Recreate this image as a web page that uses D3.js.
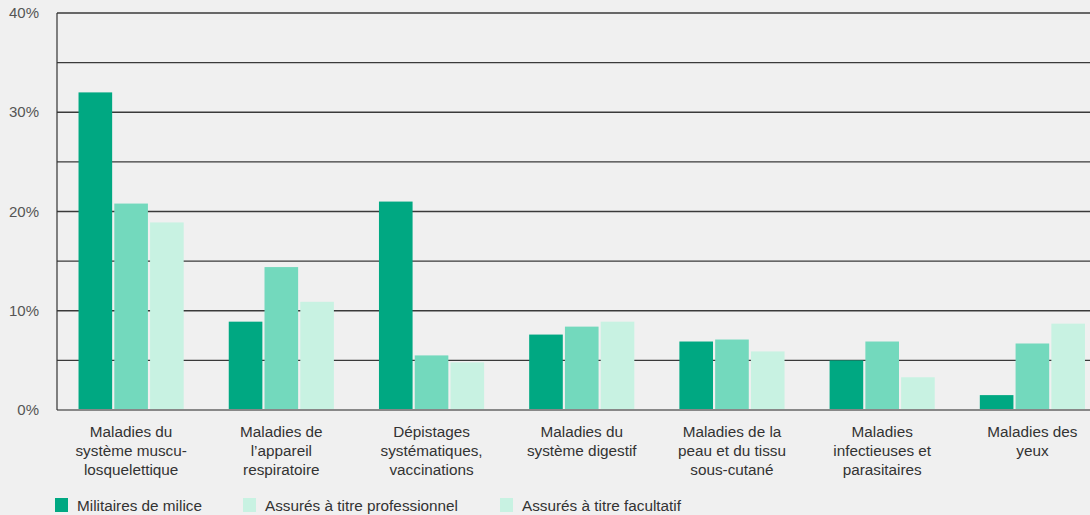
<!DOCTYPE html>
<html>
<head>
<meta charset="utf-8">
<script src="https://cdn.jsdelivr.net/npm/d3@7"></script>
<style>
  html, body { margin: 0; padding: 0; background: #f0f0f0; overflow: hidden; }
  svg { display: block; font-family: "Liberation Sans", Arial, sans-serif; }
</style>
</head>
<body>
<div id="chart"></div>
<script>
var categories = [
    ['Maladies du', 'système muscu-', 'losquelettique'],
    ['Maladies de', 'l’appareil', 'respiratoire'],
    ['Dépistages', 'systématiques,', 'vaccinations'],
    ['Maladies du', 'système digestif'],
    ['Maladies de la', 'peau et du tissu', 'sous-cutané'],
    ['Maladies', 'infectieuses et', 'parasitaires'],
    ['Maladies des', 'yeux']
];
var seriesNames = ['Militaires de milice', 'Assurés à titre professionnel', 'Assurés à titre facultatif'];
var militaires = [32.0, 8.9, 21.0, 7.6, 6.9, 5.0, 1.5];
var professionnels = [20.8, 14.4, 5.5, 8.4, 7.1, 6.9, 6.7];
var facultatifs = [18.9, 10.9, 4.8, 8.9, 5.9, 3.3, 8.7];
var yTicks = [0, 10, 20, 30, 40];
var gridValues = [5, 10, 15, 20, 25, 30, 35, 40];

var barColors = ['#00a882', '#73d9bd', '#c8f2e2'];
var legendColors = ['#00a882', '#c8f2e2', '#c8f2e2'];

var w = 1090, h = 515;
var svg = d3.select('#chart').append('svg')
    .attr('width', w)
    .attr('height', h);

var rows = categories.map((c, i) => ({
    idx: i,
    values: [militaires[i], professionnels[i], facultatifs[i]]
}));

var x0 = d3.scaleBand()
    .domain(d3.range(categories.length))
    .range([56, 1107.5])
    .paddingInner(0.3)
    .paddingOuter(0.15);
var x1 = d3.scaleBand()
    .domain([0, 1, 2])
    .range([0, x0.bandwidth()])
    .paddingInner(0.06);
var y = d3.scaleLinear()
    .domain([0, 40])
    .range([410, 13]);

// grid
svg.append('g')
    .selectAll('line')
    .data(gridValues)
    .enter()
    .append('line')
    .attr('x1', 57)
    .attr('x2', w)
    .attr('y1', (d) => y(d))
    .attr('y2', (d) => y(d))
    .attr('stroke', '#3a3a3a')
    .attr('stroke-width', 1.4);

// bars
svg.append('g')
    .selectAll('g')
    .data(rows)
    .enter()
    .append('g')
    .attr('transform', (d) => `translate(${x0(d.idx)},0)`)
    .selectAll('rect')
    .data((d) => d.values)
    .enter()
    .append('rect')
    .attr('x', (d, i) => x1(i))
    .attr('width', x1.bandwidth())
    .attr('y', (d) => y(d))
    .attr('height', (d) => y(0) - y(d))
    .attr('fill', (d, i) => barColors[i]);

// baseline + y axis line
svg.append('line')
    .attr('x1', 57).attr('x2', w)
    .attr('y1', y(0)).attr('y2', y(0))
    .attr('stroke', '#888').attr('stroke-width', 2);
svg.append('line')
    .attr('x1', 57).attr('x2', 57)
    .attr('y1', y(40)).attr('y2', y(0))
    .attr('stroke', '#333').attr('stroke-width', 1.2);

// y tick labels
svg.append('g')
    .selectAll('text')
    .data(yTicks)
    .enter()
    .append('text')
    .attr('x', 39)
    .attr('y', (d) => y(d) + 5)
    .attr('text-anchor', 'end')
    .attr('fill', '#555')
    .style('font-size', '15px')
    .text((d) => d + '%');

// category labels
var catLabels = svg.append('g')
    .selectAll('text')
    .data(rows)
    .enter()
    .append('text')
    .attr('text-anchor', 'middle')
    .attr('fill', '#333')
    .style('font-size', '15.3px')
    .attr('transform', (d) => `translate(${x0(d.idx) + x0.bandwidth() / 2},437)`);
catLabels.selectAll('tspan')
    .data((d) => categories[d.idx])
    .enter()
    .append('tspan')
    .attr('x', 0)
    .attr('y', (d, i) => i * 19)
    .text((d) => d);

// legend
var legendX = [55, 243, 500];
var legend = svg.append('g')
    .selectAll('g')
    .data(seriesNames)
    .enter()
    .append('g')
    .attr('transform', (d, i) => `translate(${legendX[i]},498)`);
legend.append('rect')
    .attr('width', 13)
    .attr('height', 14)
    .attr('fill', (d, i) => legendColors[i]);
legend.append('text')
    .attr('x', 22)
    .attr('y', 12.5)
    .attr('fill', '#333')
    .style('font-size', '15.3px')
    .text((d) => d);

// source line, mostly cut off at the bottom edge as in the original
svg.append('text')
    .attr('x', 1050)
    .attr('y', 526)
    .attr('fill', '#222')
    .style('font-size', '14px')
    .style('font-weight', 'bold')
    .text('Source');
</script>
</body>
</html>
